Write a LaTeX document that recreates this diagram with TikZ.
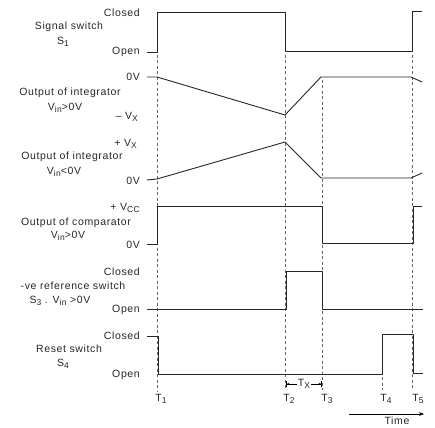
\documentclass[tikz,border=0pt]{standalone}
\usepackage{fontspec}
\setmainfont{Liberation Sans}[LetterSpace=6]
\usetikzlibrary{arrows.meta}

\newcommand{\lowsub}[1]{\raisebox{-0.4ex}{\fontsize{8.5}{9}\selectfont #1}}

\begin{document}
\begin{tikzpicture}[x=1pt, y=-1pt,
    wave/.style={line width=0.9pt, draw=black!85, line join=round},
    guide/.style={line width=0.5pt, draw=black!60, dash pattern=on 3pt off 2.5pt},
    lvl/.style={anchor=east, inner sep=1pt, text=black!85, font=\fontsize{10.5}{11}\selectfont},
    sigtitle/.style={inner sep=1pt, text=black!85, font=\fontsize{10.5}{11}\selectfont}]
    \useasboundingbox (0,0) rectangle (435,427);

    % Time marks
    \draw[guide] (157,55) -- (157,392);
    \draw[guide] (285,55) -- (285,390);
    \draw[guide] (322,80) -- (322,390);
    \draw[guide] (382,377) -- (382,390);
    \draw[guide] (412,55) -- (412,390);
    \node[sigtitle] (t1) at (161,399) {T\lowsub{1}};
    \node[sigtitle] (t2) at (289,399) {T\lowsub{2}};
    \node[sigtitle] (t3) at (327,399) {T\lowsub{3}};
    \node[sigtitle] (t4) at (386,399) {T\lowsub{4}};
    \node[sigtitle] (t5) at (418,399) {T\lowsub{5}};

    % Signal switch S1
    \node[lvl] (s1closed) at (141,13) {Closed};
    \node[lvl] (s1open) at (141,52) {Open};
    \node[sigtitle] (s1title) at (69,27) {Signal switch};
    \node[sigtitle] (s1name) at (63,42) {S\lowsub{1}};
    \draw[wave] (147,52) -- (157,52) -- (157,12) -- (285,12) -- (285,51) -- (412,51) -- (412,11) -- (422,11);

    % Integrator, Vin > 0V
    \node[lvl] (ia0) at (141,77) {0V};
    \node[lvl] (iavx) at (139,117) {-- V\lowsub{X}};
    \node[sigtitle] (iatitle) at (70,93) {Output of integrator};
    \node[sigtitle] (iacond) at (65,108) {V\lowsub{in}>0V};
    \draw[wave] (147,77) -- (157,77) -- (285,115) -- (321,77) -- (411,77) -- (422,82);

    % Integrator, Vin < 0V
    \node[lvl] (ibvx) at (138,144) {+ V\lowsub{X}};
    \node[lvl] (ib0) at (141,181) {0V};
    \node[sigtitle] (ibtitle) at (72,157) {Output of integrator};
    \node[sigtitle] (ibcond) at (64,172) {V\lowsub{in}<0V};
    \draw[wave] (147,180) -- (157,179) -- (285,142) -- (321,178) -- (411,178) -- (422,173);

    % Comparator
    \node[lvl] (cvcc) at (141,208) {+ V\lowsub{CC}};
    \node[lvl] (c0) at (141,245) {0V};
    \node[sigtitle] (ctitle) at (76,223) {Output of comparator};
    \node[sigtitle] (ccond) at (68,236) {V\lowsub{in}>0V};
    \draw[wave] (147,244) -- (157,244) -- (157,206) -- (322,206) -- (322,243) -- (413,243) -- (413,206) -- (422,206);

    % -ve reference switch S3
    \node[lvl] (s3closed) at (141,272) {Closed};
    \node[lvl] (s3open) at (141,310) {Open};
    \node[sigtitle] (s3title) at (73,286) {-ve reference switch};
    \node[sigtitle] (s3name) at (60,301) {S\lowsub{3} . V\lowsub{in} >0V};
    \draw[wave] (147,309) -- (286,309) -- (286,271) -- (322,271) -- (322,309) -- (423,309);

    % Reset switch S4
    \node[lvl] (s4closed) at (141,336) {Closed};
    \node[lvl] (s4open) at (141,375) {Open};
    \node[sigtitle] (s4title) at (69,349) {Reset switch};
    \node[sigtitle] (s4name) at (63,364) {S\lowsub{4}};
    \draw[wave] (147,336) -- (158,336) -- (158,374) -- (382,374) -- (382,334) -- (413,334) -- (413,373) -- (423,373);

    % Annotations
    \coordinate (txa) at (286,384);
    \coordinate (txb) at (322,384);
    \draw[line width=0.6pt, {Bar[width=6pt]Stealth[length=3pt]}-{Stealth[length=3pt]Bar[width=6pt]}] (txa) -- (txb)
        node[midway, fill=white, inner sep=0.5pt, sigtitle] (tx) {T\lowsub{X}};
    \coordinate (timea) at (349,414);
    \coordinate (timeb) at (424,414);
    \draw[line width=0.6pt, -{Stealth[length=5pt]}] (timea) -- (timeb);
    \node[sigtitle] (time) at (397,421) {Time};
\end{tikzpicture}
\end{document}
